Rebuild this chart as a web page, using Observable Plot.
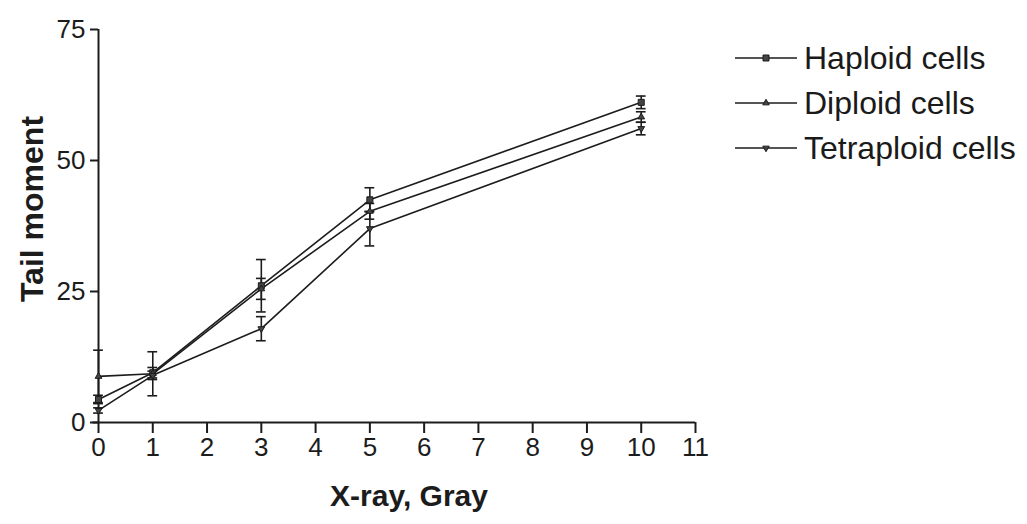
<!DOCTYPE html>
<html>
<head>
<meta charset="utf-8">
<script src="https://cdn.jsdelivr.net/npm/d3@7"></script>
<script src="https://cdn.jsdelivr.net/npm/@observablehq/plot@0.6"></script>
<style>
  html, body { margin: 0; padding: 0; background: #fff; }
  #wrap { position: relative; width: 1027px; height: 524px; font-family: "Liberation Sans", Arial, sans-serif; }
  #chart { position: absolute; left: 0; top: 0; }
  #legend { position: absolute; left: 735px; top: 35px; }
  .row { display: flex; align-items: center; height: 45px; }
  .row span { font-size: 32px; color: #1a1a1a; margin-left: 7px; line-height: 1; }
</style>
</head>
<body>
<div id="wrap">
  <div id="chart"></div>
  <div id="legend"></div>
</div>
<script>
// ---- data ----
const doses = [0, 1, 3, 5, 10];
const haploid = [4.4, 9.5, 26.1, 42.5, 61.1];
const haploidErr = [0.8, 1.0, 5.0, 2.3, 1.2];
const diploid = [8.8, 9.3, 25.5, 40.3, 58.3];
const diploidErr = [5.0, 4.2, 2.0, 1.5, 1.0];
const tetraploid = [2.3, 9.0, 17.9, 37.0, 56.1];
const tetraploidErr = [0.5, 0.8, 2.3, 3.3, 1.2];
const seriesNames = ["Haploid cells", "Diploid cells", "Tetraploid cells"];
const xTicks = [0, 1, 2, 3, 4, 5, 6, 7, 8, 9, 10, 11];
const yTicks = [0, 25, 50, 75];
const xLabel = "X-ray, Gray";
const yLabel = "Tail moment";

const symbols = {
  "Haploid cells": {symbol: "square", r: 3.4, rotate: 0},
  "Diploid cells": {symbol: "triangle", r: 2.5, rotate: 0},
  "Tetraploid cells": {symbol: "triangle", r: 2.5, rotate: 180}
};

const values = [haploid, diploid, tetraploid];
const errs = [haploidErr, diploidErr, tetraploidErr];
const rows = [];
seriesNames.forEach((s, i) => {
  doses.forEach((d, j) => rows.push({series: s, x: d, y: values[i][j], e: errs[i][j]}));
});

const ink = "#1c1c1c";
const capHalf = 0.09;

const marks = [
  Plot.ruleX([0], {y1: 0, y2: 75, stroke: ink, strokeWidth: 2}),
  Plot.ruleY([0], {x1: -0.1, x2: 11, stroke: ink, strokeWidth: 2}),
  Plot.axisX({ticks: xTicks, tickSize: 11, tickPadding: 4, fontSize: 26, label: null, stroke: ink, strokeWidth: 2}),
  Plot.axisY({ticks: yTicks, tickSize: 8, tickPadding: 5, fontSize: 26, label: null, stroke: ink, strokeWidth: 2}),
  Plot.line(rows, {x: "x", y: "y", z: "series", stroke: ink, strokeWidth: 1.6}),
  Plot.ruleX(rows, {x: "x", y1: d => d.y - d.e, y2: d => d.y + d.e, stroke: ink, strokeWidth: 1.6}),
  Plot.ruleY(rows, {y: d => d.y - d.e, x1: d => d.x - capHalf, x2: d => d.x + capHalf, stroke: ink, strokeWidth: 1.6}),
  Plot.ruleY(rows, {y: d => d.y + d.e, x1: d => d.x - capHalf, x2: d => d.x + capHalf, stroke: ink, strokeWidth: 1.6})
];
seriesNames.forEach(s => {
  const sy = symbols[s];
  marks.push(Plot.dot(rows.filter(d => d.series === s), {
    x: "x", y: "y", symbol: sy.symbol, r: sy.r, rotate: sy.rotate,
    fill: "#444", stroke: ink, strokeWidth: 1
  }));
});
marks.push(Plot.text([yLabel], {frameAnchor: "left", textAnchor: "middle", dx: -66, dy: -17, rotate: -90, fontSize: 32, fontWeight: "bold", fill: ink}));
marks.push(Plot.text([xLabel], {frameAnchor: "bottom", dx: 12, dy: 83, fontSize: 30, fontWeight: "bold", fill: ink}));

const chart = Plot.plot({
  width: 720,
  height: 524,
  marginLeft: 98,
  marginRight: 25,
  marginTop: 29,
  marginBottom: 102,
  x: {domain: [0, 11]},
  y: {domain: [0, 75]},
  style: {fontFamily: "Liberation Sans, Arial, sans-serif", color: ink, background: "#fff", overflow: "visible"},
  marks
});
document.getElementById("chart").appendChild(chart);

// ---- legend ----
const legend = d3.select("#legend");
seriesNames.forEach(s => {
  const sy = symbols[s];
  const row = legend.append("div").attr("class", "row");
  const svg = row.append("svg").attr("width", 62).attr("height", 20);
  svg.append("line").attr("x1", 0).attr("x2", 62).attr("y1", 10).attr("y2", 10)
    .attr("stroke", ink).attr("stroke-width", 1.6);
  const sym = d3.symbol(sy.symbol === "square" ? d3.symbolSquare : d3.symbolTriangle, sy.symbol === "square" ? 36 : 18);
  svg.append("path").attr("d", sym()).attr("transform", `translate(31,10) rotate(${sy.rotate})`)
    .attr("fill", "#444").attr("stroke", ink).attr("stroke-width", 1);
  row.append("span").text(s);
});
</script>
</body>
</html>
